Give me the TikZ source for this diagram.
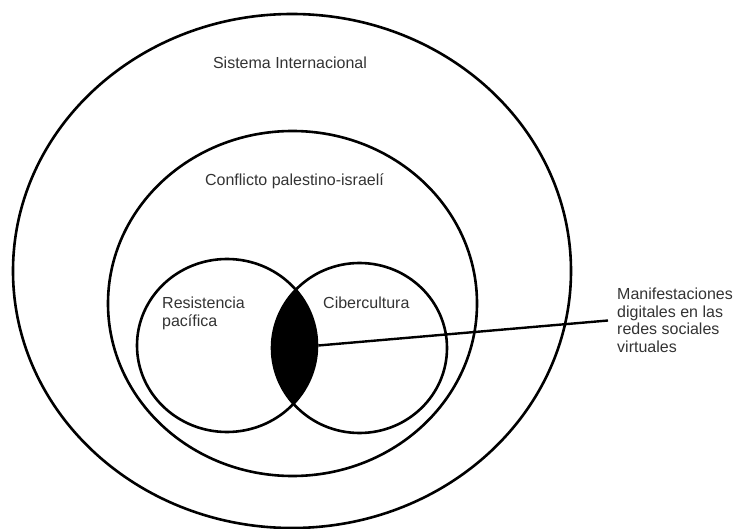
\documentclass[tikz,border=0pt]{standalone}
\usepackage{fontspec}
\setmainfont{Liberation Sans}
\usetikzlibrary{shapes.geometric}
\begin{document}
\begin{tikzpicture}[x=1pt,y=-1pt,
  ring/.style={ellipse,draw=black,line width=2.6pt,inner sep=0pt},
  lbl/.style={text=black!80,font=\fontsize{16}{17.5}\selectfont,inner sep=0pt,align=left}]
\useasboundingbox (0,0) rectangle (734,529);
% lens fill
\begin{scope}
  \clip (227,345.5) ellipse [x radius=90, y radius=86.5];
  \fill[black] (359.5,348) ellipse [x radius=87.5, y radius=85];
\end{scope}
\node[ring,minimum width=558pt,minimum height=514pt] (outer) at (292,271) {};
\node[ring,minimum width=369pt,minimum height=345pt] (middle) at (292.5,303.5) {};
\node[ring,minimum width=180pt,minimum height=173pt] (left) at (227,345.5) {};
\node[ring,minimum width=175pt,minimum height=170pt] (right) at (359.5,348) {};
\node[lbl,anchor=base] (sis) at (290,69) {Sistema Internacional};
\node[lbl,anchor=base] (conf) at (294.5,186) {Conflicto palestino-israelí};
\node[lbl,anchor=base west] (res) at (162,309) {Resistencia};
\node[lbl,anchor=base west] (pac) at (162,327) {pacífica};
\node[lbl,anchor=base west] (cib) at (323,309) {Cibercultura};
\node[lbl,anchor=west,inner xsep=9pt] (man) at (608,320.5) {Manifestaciones\\digitales en las\\redes sociales\\virtuales};
\draw[line width=2.4pt] (left.east) -- (man.west);
\end{tikzpicture}
\end{document}
